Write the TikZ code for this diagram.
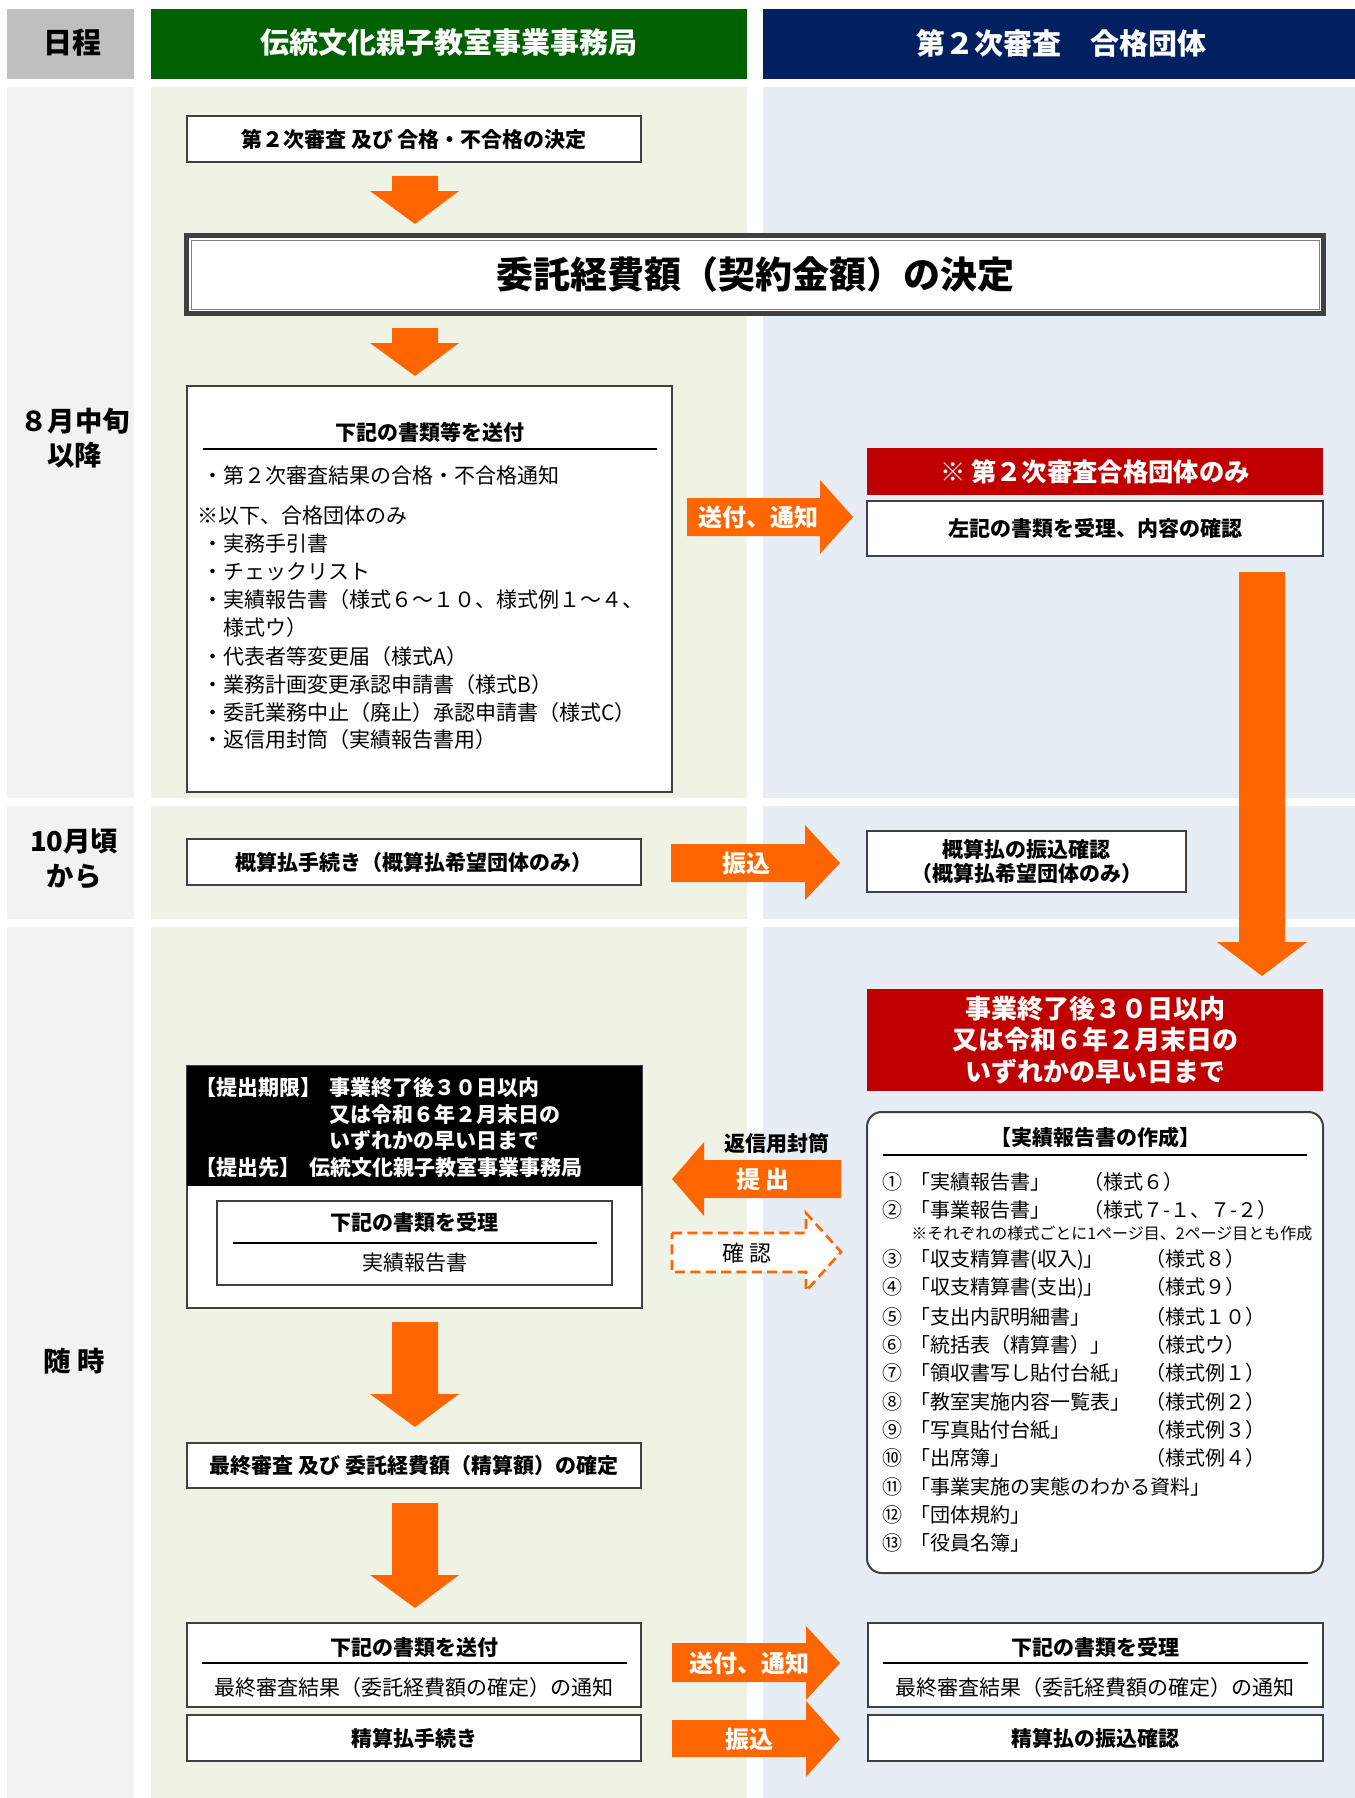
\documentclass[tikz,border=0pt]{standalone}
\usepackage{fontspec}
\setmainfont{Noto Sans CJK JP}
\usepackage{tikz}
\usetikzlibrary{fit}

\definecolor{hdgray}{HTML}{BFBFBF}
\definecolor{hdgreen}{HTML}{006100}
\definecolor{hdblue}{HTML}{002060}
\definecolor{bggray}{HTML}{F2F2F2}
\definecolor{bggreen}{HTML}{EFF3E5}
\definecolor{bgblue}{HTML}{E6EDF5}
\definecolor{boxline}{HTML}{404040}
\definecolor{arrorange}{HTML}{FF6600}
\definecolor{darkred}{HTML}{C00000}

\tikzset{
  box/.style={draw=boxline, line width=1.5pt, fill=white, inner sep=0pt},
  boxtext/.style={align=center, font=\bfseries\fontsize{15.75pt}{18pt}\selectfont},
  plaintext/.style={font=\fontsize{15.75pt}{18pt}\selectfont},
  listtext/.style={anchor=west, inner sep=0pt, font=\fontsize{15.75pt}{18pt}\selectfont},
  itemtext/.style={anchor=west, inner sep=0pt, font=\fontsize{15pt}{18pt}\selectfont},
  blacktext/.style={anchor=west, inner sep=0pt, text=white, font=\bfseries\fontsize{15.75pt}{18pt}\selectfont},
  arrowfill/.style={fill=arrorange},
  arrowlabel/.style={text=white, font=\bfseries\fontsize{18pt}{20pt}\selectfont},
  headtext/.style={font=\bfseries\fontsize{21.75pt}{24pt}\selectfont},
  datetext/.style={align=center, font=\bfseries\fontsize{20.5pt}{26pt}\selectfont},
  redbox/.style={fill=darkred, inner sep=0pt},
  redtext/.style={text=white, align=center},
  rule/.style={line width=1.5pt},
}

\begin{document}
\begin{tikzpicture}[x=0.75pt, y=-0.75pt]
\useasboundingbox (0,0) rectangle (1355,1798);
\fill[white] (0,0) rectangle (1355,1798);

% header
\fill[hdgray] (7,9) rectangle (134,79);
\fill[hdgreen] (151,9) rectangle (747,79);
\fill[hdblue] (763,9) rectangle (1355,79);
\node[headtext] (hddate) at (72,43) {日程};
\node[headtext, text=white] (hdoffice) at (449,43) {伝統文化親子教室事業事務局};
\node[headtext, text=white] (hdgroup) at (1061,43) {第２次審査　合格団体};

% rows
\fill[bggray] (7,87) rectangle (134,798);
\fill[bggreen] (151,87) rectangle (747,798);
\fill[bgblue] (763,87) rectangle (1355,798);
\fill[bggray] (7,806) rectangle (134,919);
\fill[bggreen] (151,806) rectangle (747,919);
\fill[bgblue] (763,806) rectangle (1355,919);
\fill[bggray] (7,927) rectangle (134,1798);
\fill[bggreen] (151,927) rectangle (747,1798);
\fill[bgblue] (763,927) rectangle (1355,1798);

\node[datetext] (aug) at (75,438) {８月中旬\\以降};
\node[datetext] (oct) at (74,859) {10月頃\\から};
\node[datetext] (anytime) at (74,1361) {随 時};

% block arrows
\fill[arrowfill] (392,176) -- (438,176) -- (438,191) -- (459,191) -- (415,224) -- (370,191) -- (392,191) -- cycle;
\fill[arrowfill] (392,328) -- (438,328) -- (438,343) -- (459,343) -- (415,376) -- (370,343) -- (392,343) -- cycle;
\fill[arrowfill] (392,1322) -- (438,1322) -- (438,1394) -- (459,1394) -- (415,1427) -- (370,1394) -- (392,1394) -- cycle;
\fill[arrowfill] (392,1503) -- (438,1503) -- (438,1575) -- (459,1575) -- (415,1608) -- (370,1575) -- (392,1575) -- cycle;
\fill[arrowfill] (1239,572) -- (1285,572) -- (1285,942) -- (1307,942) -- (1262,976) -- (1217,942) -- (1239,942) -- cycle;
\fill[arrowfill] (687,498) -- (820,498) -- (820,480) -- (853,517) -- (820,554) -- (820,536) -- (687,536) -- cycle;
\fill[arrowfill] (671,844) -- (805,844) -- (805,825) -- (840,863) -- (805,900) -- (805,882) -- (671,882) -- cycle;
\fill[arrowfill] (841,1160) -- (704,1160) -- (704,1142) -- (672,1179) -- (704,1216) -- (704,1198) -- (841,1198) -- cycle;
\draw[arrorange, fill=white, line width=2pt, dash pattern=on 7.5pt off 4pt] (672,1233) -- (806,1233) -- (806,1213) -- (841,1252) -- (806,1291) -- (806,1272) -- (672,1272) -- cycle;
\fill[arrowfill] (672,1643) -- (806,1643) -- (806,1626) -- (840,1663) -- (806,1700) -- (806,1682) -- (672,1682) -- cycle;
\fill[arrowfill] (672,1720) -- (806,1720) -- (806,1701) -- (840,1739) -- (806,1777) -- (806,1757) -- (672,1757) -- cycle;

\node[arrowlabel] (sofu) at (758,517) {送付、通知};
\node[arrowlabel] (furikomi) at (746,863) {振込};
\node[arrowlabel] (teishutsulbl) at (763,1179) {提 出};
\node[boxtext] (henshin) at (777,1143) {返信用封筒};
\node[font=\fontsize{16.5pt}{18pt}\selectfont] (kakunin) at (747,1253) {確 認};
\node[arrowlabel] (sofu2) at (749,1663) {送付、通知};
\node[arrowlabel] (furikomi2) at (749,1739) {振込};

% row 1
\node[box, fit={(187,116) (641,162)}] (kettei) {};
\node[boxtext] (ketteit) at (kettei) {第２次審査 及び 合格・不合格の決定};
\node[fit={(186.5,235.5) (1323.5,313.5)}, draw=boxline, line width=3.75pt, fill=white, inner sep=0pt] (itaku) {};
\draw[gray, line width=0.75pt] (191,240) rectangle (1319,309);
\node[font=\bfseries\fontsize{27.75pt}{30pt}\selectfont] (itakut) at (itaku) {委託経費額（契約金額）の決定};

\node[box, fit={(187,386) (672,792)}] (shorui) {};
\node[boxtext] (shoruit) at (430,432) {下記の書類等を送付};
\draw[rule] (203,449) -- (657,449);
\node[listtext] (s1) at (202,475) {・第２次審査結果の合格・不合格通知};
\node[listtext] (s2) at (197,516) {※以下、合格団体のみ};
\node[listtext] (s3) at (202,544) {・実務手引書};
\node[listtext] (s4) at (202,572) {・チェックリスト};
\node[listtext] (s5) at (202,600) {・実績報告書（様式６～１０、様式例１～４、};
\node[listtext] (s6) at (202,628) {　様式ウ）};
\node[listtext] (s7) at (202,657) {・代表者等変更届（様式A）};
\node[listtext] (s8) at (202,685) {・業務計画変更承認申請書（様式B）};
\node[listtext] (s9) at (202,713) {・委託業務中止（廃止）承認申請書（様式C）};
\node[listtext] (s10) at (202,740) {・返信用封筒（実績報告書用）};

\node[redbox, fit={(867,448) (1323,495)}] (gokaku) {};
\node[redtext, font=\bfseries\fontsize{19pt}{22pt}\selectfont] (gokakut) at (gokaku) {※ 第２次審査合格団体のみ};
\node[box, fit={(867,501) (1323,556)}] (juri) {};
\node[boxtext] (jurit0) at (juri) {左記の書類を受理、内容の確認};

% row 2
\node[box, fit={(187,839) (641,885)}] (gaisan) {};
\node[boxtext] (gaisant) at (gaisan) {概算払手続き（概算払希望団体のみ）};
\node[box, fit={(867,831) (1186,892)}] (gaisankakunin) {};
\node[boxtext] (gaisankakunint) at (gaisankakunin) {概算払の振込確認\\（概算払希望団体のみ）};

% row 3
\node[redbox, fit={(867,989) (1323,1091)}] (kigen) {};
\node[redtext, font=\bfseries\fontsize{19.5pt}{23.6pt}\selectfont] (kigent) at (kigen) {事業終了後３０日以内\\又は令和６年２月末日の\\いずれかの早い日まで};

\node[box, fit={(187,1066) (642,1308)}] (teishutsu) {};
\fill[black] (187,1066) rectangle (642,1186);
\node[blacktext] (k1) at (195,1088) {【提出期限】};
\node[blacktext] (k2) at (329,1088) {事業終了後３０日以内};
\node[blacktext] (k3) at (329,1115) {又は令和６年２月末日の};
\node[blacktext] (k4) at (329,1140) {いずれかの早い日まで};
\node[blacktext] (k5) at (195,1168) {【提出先】};
\node[blacktext] (k6) at (309,1168) {伝統文化親子教室事業事務局};
\node[box, fit={(217,1201) (612,1285)}] (juri2) {};
\node[boxtext] (juri2t) at (414.5,1222) {下記の書類を受理};
\draw[rule] (233,1243) -- (597,1243);
\node[plaintext] (juri2s) at (414.5,1263) {実績報告書};

\node[box, rounded corners=11pt, fit={(867,1112) (1323,1573)}] (sakusei) {};
\node[boxtext] (sakuseit) at (1095,1137) {【実績報告書の作成】};
\draw[rule] (883,1155) -- (1307,1155);
\node[itemtext] (r1) at (882,1182) {\makebox[1.4em][l]{①}\makebox[8.65em][l]{「実績報告書」}（様式６）};
\node[itemtext] (r2) at (882,1210) {\makebox[1.4em][l]{②}\makebox[8.65em][l]{「事業報告書」}（様式７-１、７-２）};
\node[anchor=west, inner sep=0pt, font=\fontsize{12pt}{14pt}\selectfont] (rnote) at (911,1233) {※それぞれの様式ごとに1ページ目、2ページ目とも作成};
\node[itemtext] (r3) at (882,1260) {\makebox[1.4em][l]{③}\makebox[11.75em][l]{「収支精算書(収入)」}（様式８）};
\node[itemtext] (r4) at (882,1288) {\makebox[1.4em][l]{④}\makebox[11.75em][l]{「収支精算書(支出)」}（様式９）};
\node[itemtext] (r5) at (882,1317) {\makebox[1.4em][l]{⑤}\makebox[11.75em][l]{「支出内訳明細書」}（様式１０）};
\node[itemtext] (r6) at (882,1345) {\makebox[1.4em][l]{⑥}\makebox[11.75em][l]{「統括表（精算書）」}（様式ウ）};
\node[itemtext] (r7) at (882,1373) {\makebox[1.4em][l]{⑦}\makebox[11.75em][l]{「領収書写し貼付台紙」}（様式例１）};
\node[itemtext] (r8) at (882,1402) {\makebox[1.4em][l]{⑧}\makebox[11.75em][l]{「教室実施内容一覧表」}（様式例２）};
\node[itemtext] (r9) at (882,1430) {\makebox[1.4em][l]{⑨}\makebox[11.75em][l]{「写真貼付台紙」}（様式例３）};
\node[itemtext] (r10) at (882,1458) {\makebox[1.4em][l]{⑩}\makebox[11.75em][l]{「出席簿」}（様式例４）};
\node[itemtext] (r11) at (882,1487) {\makebox[1.4em][l]{⑪}「事業実施の実態のわかる資料」};
\node[itemtext] (r12) at (882,1515) {\makebox[1.4em][l]{⑫}「団体規約」};
\node[itemtext] (r13) at (882,1543) {\makebox[1.4em][l]{⑬}「役員名簿」};

\node[box, fit={(187,1443) (641,1488)}] (saishu) {};
\node[boxtext] (saishut) at (saishu) {最終審査 及び 委託経費額（精算額）の確定};

\node[box, fit={(187,1623) (641,1707)}] (sofubox) {};
\node[boxtext] (sofut) at (414,1647) {下記の書類を送付};
\draw[rule] (202,1663) -- (627,1663);
\node[plaintext] (sofus) at (414,1687) {最終審査結果（委託経費額の確定）の通知};
\node[box, fit={(187,1715) (641,1761)}] (seisan) {};
\node[boxtext] (seisant) at (seisan) {精算払手続き};

\node[box, fit={(868,1623) (1323,1707)}] (juribox) {};
\node[boxtext] (jurit) at (1095,1647) {下記の書類を受理};
\draw[rule] (883,1663) -- (1308,1663);
\node[plaintext] (juris) at (1095,1687) {最終審査結果（委託経費額の確定）の通知};
\node[box, fit={(868,1715) (1323,1761)}] (seisankakunin) {};
\node[boxtext] (seisankakunint) at (seisankakunin) {精算払の振込確認};
\end{tikzpicture}
\end{document}
